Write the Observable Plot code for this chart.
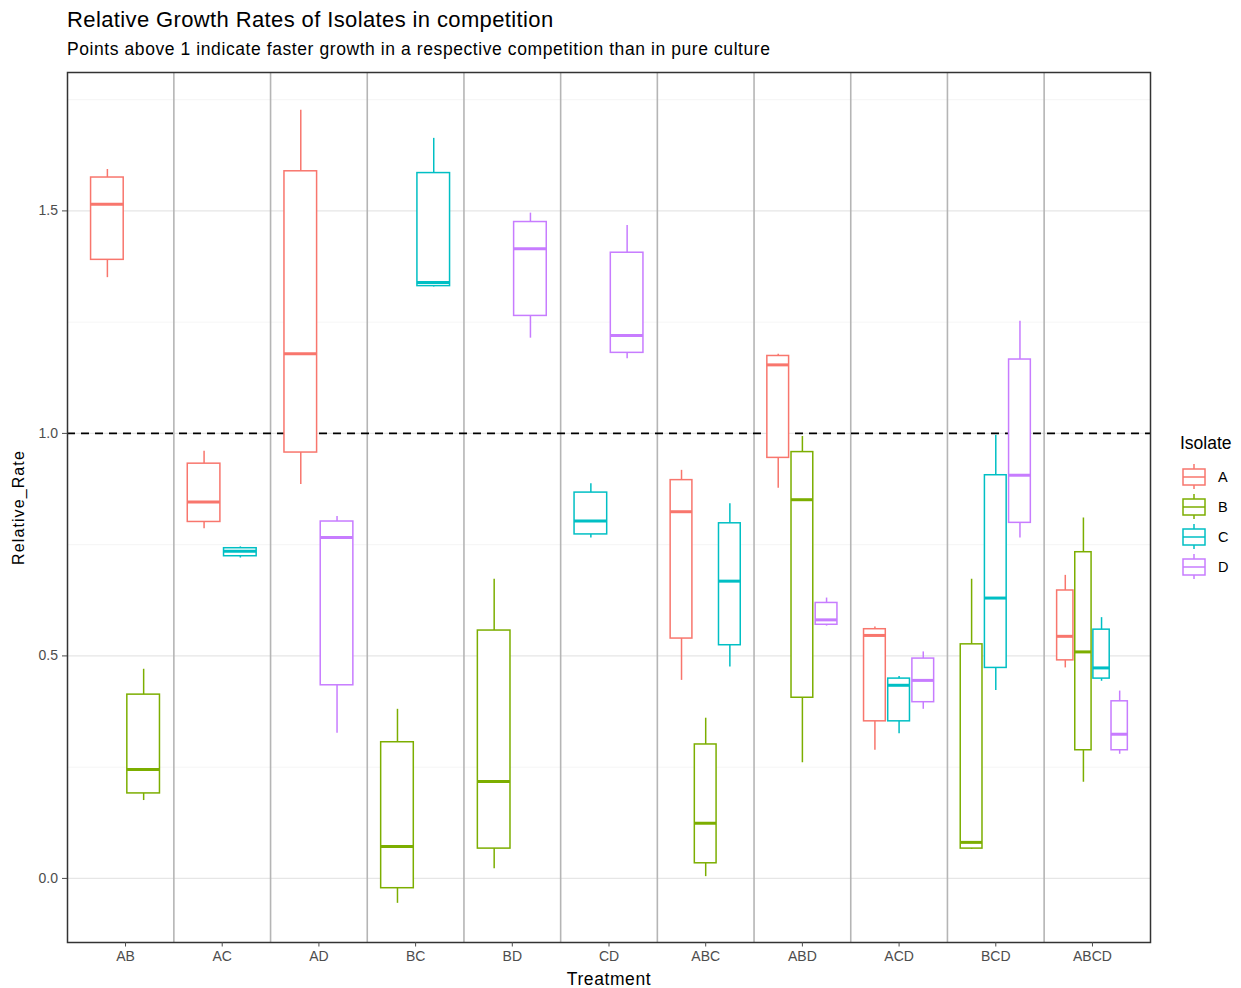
<!DOCTYPE html>
<html>
<head>
<meta charset="utf-8">
<script src="https://cdn.jsdelivr.net/npm/d3@7"></script>
<script src="https://cdn.jsdelivr.net/npm/@observablehq/plot@0.6"></script>
<style>
  body { margin: 0; background: #fff; font-family: "Liberation Sans", Arial, sans-serif; }
  #wrap { position: relative; width: 1241px; height: 988px; }
  #title { position: absolute; left: 67px; top: 6px; font-size: 22px; letter-spacing: 0.38px; color: #000; white-space: nowrap; line-height: 27px; }
  #subtitle { position: absolute; left: 67px; top: 39px; font-size: 17.5px; letter-spacing: 0.58px; color: #000; white-space: nowrap; line-height: 21px; }
  #chart { position: absolute; left: 0; top: 0; }
  #legend { position: absolute; left: 1170px; top: 428px; }
</style>
</head>
<body>
<div id="wrap">
  <div id="chart"></div>
  <div id="title">Relative Growth Rates of Isolates in competition</div>
  <div id="subtitle">Points above 1 indicate faster growth in a respective competition than in pure culture</div>
  <div id="legend"></div>
</div>
<script>
// ---- data ----
const treatments = ["AB","AC","AD","BC","BD","CD","ABC","ABD","ACD","BCD","ABCD"];
const isolates = ["A","B","C","D"];
const isolateColors = ["#F8766D","#7CAE00","#00BFC4","#C77CFF"];
const yTicks = [0, 0.5, 1.0, 1.5];

const boxTreatment = ["AB","AB","AC","AC","AD","AD","BC","BC","BD","BD","CD","CD",
  "ABC","ABC","ABC","ABD","ABD","ABD","ACD","ACD","ACD","BCD","BCD","BCD","ABCD","ABCD","ABCD","ABCD"];
const boxIsolate = ["A","B","A","C","A","D","B","C","B","D","C","D",
  "A","B","C","A","B","D","A","C","D","B","C","D","A","B","C","D"];
const whiskerLow  = [1.350,0.175,0.786,0.720,0.885,0.326,-0.056,1.329,0.022,1.214,0.765,1.168,
  0.445,0.004,0.475,0.877,0.260,0.567,0.288,0.325,0.380,0.065,0.422,0.765,0.473,0.216,0.443,0.279];
const lowerQuartile = [1.390,0.191,0.801,0.724,0.957,0.434,-0.022,1.331,0.067,1.264,0.773,1.181,
  0.539,0.034,0.524,0.945,0.406,0.570,0.353,0.353,0.396,0.067,0.473,0.799,0.490,0.288,0.449,0.288];
const medianValue = [1.515,0.245,0.846,0.735,1.179,0.766,0.072,1.339,0.218,1.415,0.803,1.220,
  0.824,0.124,0.668,1.154,0.851,0.581,0.546,0.434,0.445,0.081,0.630,0.906,0.544,0.509,0.473,0.324];
const upperQuartile = [1.575,0.413,0.932,0.742,1.589,0.802,0.306,1.585,0.557,1.475,0.867,1.406,
  0.895,0.301,0.798,1.174,0.958,0.619,0.560,0.449,0.494,0.526,0.906,1.166,0.647,0.733,0.559,0.398];
const whiskerHigh = [1.593,0.470,0.960,0.745,1.726,0.813,0.380,1.663,0.672,1.495,0.887,1.467,
  0.917,0.360,0.842,1.178,0.993,0.630,0.565,0.454,0.509,0.672,0.996,1.252,0.681,0.810,0.586,0.421];

// ---- derived table (dodge positions computed from the categories) ----
const dodgeWidth = 0.75, padding = 0.1;
const rows = boxTreatment.map((t, i) => {
  const ti = treatments.indexOf(t) + 1;
  const n = t.length;
  const slot = t.indexOf(boxIsolate[i]);
  const slotW = dodgeWidth / n;
  const c = ti - dodgeWidth / 2 + (slot + 0.5) * slotW;
  const half = slotW * (1 - padding) / 2;
  return {treatment: t, isolate: boxIsolate[i], c, x1: c - half, x2: c + half,
    wl: whiskerLow[i], q1: lowerQuartile[i], med: medianValue[i], q3: upperQuartile[i], wh: whiskerHigh[i]};
});

const separators = d3.range(1.5, treatments.length, 1);
const minorGrid = [0.25, 0.75, 1.25, 1.75];

const chart = Plot.plot({
  width: 1241,
  height: 988,
  marginTop: 72,
  marginBottom: 46,
  marginLeft: 67,
  marginRight: 91,
  style: {fontFamily: "Liberation Sans, Arial, sans-serif", fontSize: "12px", background: "white"},
  x: {domain: [0.4, treatments.length + 0.6]},
  y: {domain: [-0.144, 1.811]},
  color: {domain: isolates, range: isolateColors},
  marks: [
    Plot.ruleY(minorGrid, {stroke: "#f2f2f2", strokeWidth: 0.8}),
    Plot.ruleY(yTicks, {stroke: "#e6e6e6", strokeWidth: 1.2}),
    Plot.ruleX(separators, {stroke: "#b5b5b5", strokeWidth: 1.6}),
    Plot.ruleY([1], {stroke: "#000", strokeWidth: 1.8, strokeDasharray: "8,6"}),
    Plot.ruleX(rows, {x: "c", y1: "wl", y2: "wh", stroke: "isolate", strokeWidth: 1.5}),
    Plot.rect(rows, {x1: "x1", x2: "x2", y1: "q1", y2: "q3", fill: "white", stroke: "isolate", strokeWidth: 1.5}),
    Plot.ruleY(rows, {y: "med", x1: "x1", x2: "x2", stroke: "isolate", strokeWidth: 3}),
    Plot.frame({stroke: "#333", strokeWidth: 1.5}),
    Plot.axisY(yTicks, {tickFormat: d3.format(".1f"), tickSize: 5, tickPadding: 4.5, label: null, color: "#4d4d4d", fontSize: 14}),
    Plot.axisX(d3.range(1, treatments.length + 1), {tickFormat: d => treatments[d - 1], tickSize: 4.5, tickPadding: 4, label: null, color: "#4d4d4d", fontSize: 14}),
    Plot.text(["Treatment"], {frameAnchor: "bottom", lineAnchor: "middle", dy: 37, text: d => d, fontSize: 17.5, fill: "#000"}),
    Plot.text(["Relative_Rate"], {frameAnchor: "left", textAnchor: "middle", lineAnchor: "middle", dx: -49, rotate: -90, text: d => d, fontSize: 16, fill: "#000"})
  ]
});
document.getElementById("chart").appendChild(chart);
d3.select(chart).selectAll("text").each(function() {
  const s = this.textContent;
  if (s === "Treatment") this.setAttribute("letter-spacing", "0.6px");
  if (s === "Relative_Rate") this.setAttribute("letter-spacing", "1.1px");
});

// ---- legend ----
const lg = d3.select("#legend").append("svg").attr("width", 71).attr("height", 160)
  .style("font-family", "Liberation Sans, Arial, sans-serif");
lg.append("text").attr("x", 10).attr("y", 21).attr("font-size", 17.5).attr("fill", "#000").text("Isolate");
isolates.forEach((iso, i) => {
  const cy = 49 + i * 30;
  const g = lg.append("g").attr("stroke", isolateColors[i]).attr("stroke-width", 1.5).attr("fill", "white");
  g.append("line").attr("x1", 24).attr("x2", 24).attr("y1", cy - 13).attr("y2", cy + 12);
  g.append("rect").attr("x", 13).attr("y", cy - 8).attr("width", 22).attr("height", 16);
  g.append("line").attr("x1", 13).attr("x2", 35).attr("y1", cy).attr("y2", cy);
  lg.append("text").attr("x", 48).attr("y", cy + 5).attr("font-size", 14.5).attr("fill", "#000").text(iso);
});
</script>
</body>
</html>
